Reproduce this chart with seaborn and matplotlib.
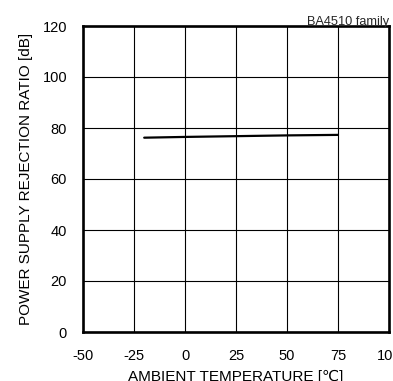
import matplotlib
matplotlib.use('Agg')
import matplotlib.pyplot as plt
import seaborn as sns
import pandas as pd

# data
temperature = [-20, 0, 25, 50, 75]
psrr = [76.2, 76.5, 76.8, 77.1, 77.3]
x_ticks = [-50, -25, 0, 25, 50, 75, 100]
y_ticks = [0, 20, 40, 60, 80, 100, 120]

sns.set_style("white")
plt.rcParams['font.family'] = ['Liberation Sans', 'DejaVu Sans']
plt.rcParams['axes.unicode_minus'] = False

df = pd.DataFrame({'temp': temperature, 'psrr': psrr})

fig = plt.figure(figsize=(3.93, 3.81), dpi=100)
ax = fig.add_axes([83 / 393, 49 / 381, 306 / 393, 306 / 381])

sns.lineplot(data=df, x='temp', y='psrr', color='black', linewidth=1.6, ax=ax)

ax.set_xlim(-50, 100)
ax.set_ylim(0, 120)
ax.set_xticks(x_ticks)
ax.set_yticks(y_ticks)
ax.grid(True, color='black', linewidth=0.8)
ax.set_axisbelow(True)
for s in ax.spines.values():
    s.set_visible(True)
    s.set_color('black')
    s.set_linewidth(1.9)

ax.tick_params(axis='both', length=0, labelsize=10.5, labelcolor='black')
ax.tick_params(axis='y', pad=11.5)
ax.tick_params(axis='x', pad=12)

ax.set_xlabel('AMBIENT TEMPERATURE [℃]', fontsize=11, color='black')
ax.set_ylabel('POWER SUPPLY REJECTION RATIO [dB]', fontsize=11, color='black')
ax.xaxis.set_label_coords(0.5, -0.124)
ax.yaxis.set_label_coords(-0.163, 0.5)
ax.set_title('BA4510 family', loc='right', fontsize=9.2, pad=1)

fig.savefig('out.png', dpi=100)
